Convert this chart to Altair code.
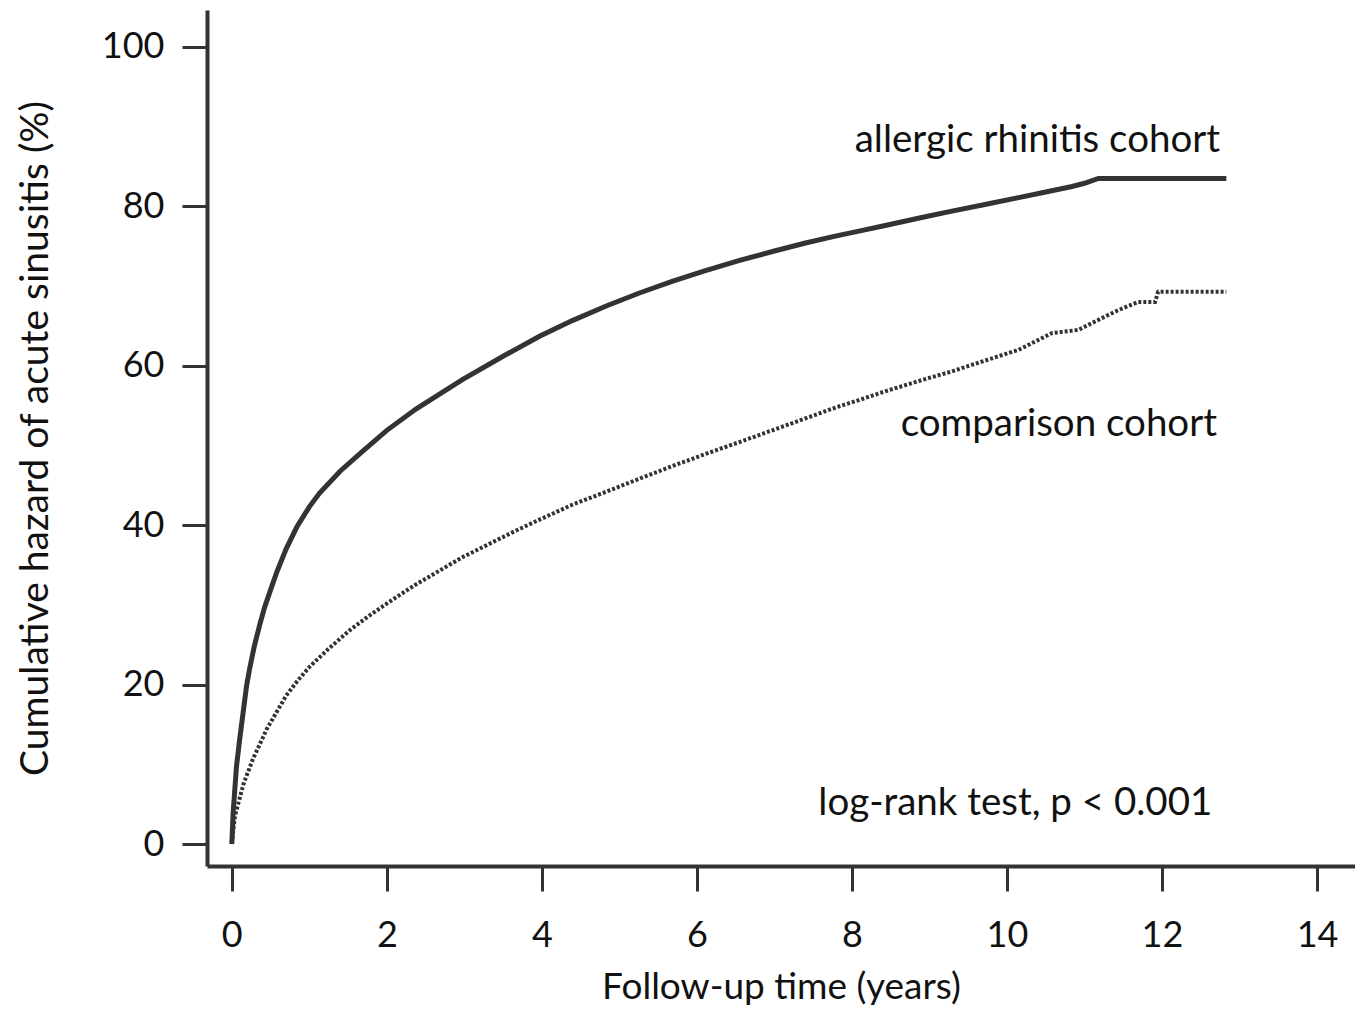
import altair as alt
import pandas as pd

# Allergic rhinitis cohort (solid)
ar_time = [0, 0.017, 0.06, 0.10, 0.15, 0.19, 0.23, 0.29, 0.36, 0.42, 0.49, 0.58, 0.70,
           0.84, 1.0, 1.13, 1.40, 1.69, 2.0, 2.38, 2.98, 3.5, 3.97, 4.4, 4.83, 5.25,
           5.68, 6.1, 6.54, 7.0, 7.40, 7.8, 8.09, 8.43, 8.9, 9.29, 9.7, 10.15, 10.5,
           10.84, 11.0, 11.18, 12.83]
ar_hazard = [0, 3.9, 9.7, 13.0, 16.8, 19.8, 22.0, 24.8, 27.5, 29.6, 31.6, 34.1, 37.0,
             39.8, 42.3, 44.0, 46.8, 49.3, 51.9, 54.6, 58.3, 61.2, 63.7, 65.7, 67.5, 69.1,
             70.6, 71.9, 73.2, 74.4, 75.4, 76.3, 76.9, 77.6, 78.6, 79.4, 80.2, 81.1, 81.8,
             82.5, 82.9, 83.5, 83.5]

# Comparison cohort (dotted)
cc_time = [0, 0.04, 0.15, 0.27, 0.45, 0.70, 0.85, 1.0, 1.26, 1.52, 1.78, 2.08, 2.38, 2.98,
           3.62, 3.97, 4.4, 4.83, 5.25, 5.68, 6.1, 6.54, 7.0, 7.40, 7.8, 8.09, 8.43,
           8.9, 9.29, 9.7, 10.15, 10.58, 10.92, 11.27, 11.44, 11.69, 11.91, 11.95, 12.83]
cc_hazard = [0, 3.5, 7.5, 10.6, 14.4, 18.6, 20.5, 22.2, 24.6, 26.8, 28.7, 30.7, 32.6, 36.0,
             39.1, 40.7, 42.6, 44.2, 45.8, 47.4, 48.9, 50.4, 52.0, 53.4, 54.8, 55.7, 56.8,
             58.2, 59.3, 60.6, 62.0, 64.1, 64.5, 66.2, 67.0, 68.0, 68.0, 69.3, 69.3]

x_ticks = [0, 2, 4, 6, 8, 10, 12, 14]
y_ticks = [0, 20, 40, 60, 80, 100]

ann_text = ["allergic rhinitis cohort", "comparison cohort", "log-rank test, p < 0.001"]
ann_x = [12.75, 12.71, 12.65]
ann_y = [86.8, 51.2, 3.6]

FONT = "Lato"
TXT = "#111111"
ar = pd.DataFrame({"t": ar_time, "h": ar_hazard})
cc = pd.DataFrame({"t": cc_time, "h": cc_hazard})
ann = pd.DataFrame({"label": ann_text, "t": ann_x, "h": ann_y})

xscale = alt.Scale(domain=[-0.32, 14.49], nice=False, zero=False)
yscale = alt.Scale(domain=[-2.76, 104.64], nice=False, zero=False)

xaxis = alt.Axis(values=x_ticks, format="d", title="Follow-up time (years)", grid=False,
                 domainWidth=4, domainColor="#333333", tickColor="#333333",
                 tickWidth=3, tickSize=25, labelFontSize=36, labelFont=FONT,
                 labelColor=TXT, labelPadding=27, titleFontSize=37,
                 titleFont=FONT, titleFontWeight="normal", titleColor=TXT,
                 titlePadding=16, labelFlush=False)
yaxis = alt.Axis(values=y_ticks, format="d",
                 title="Cumulative hazard of acute sinusitis (%)",
                 grid=False, domainWidth=4, domainColor="#333333",
                 tickColor="#333333", tickWidth=3, tickSize=25, labelFontSize=36,
                 labelFont=FONT, labelColor=TXT, labelPadding=18,
                 titleFontSize=39, titleFont=FONT, titleFontWeight="normal",
                 titleColor=TXT, titlePadding=46, labelFlush=False)

solid = alt.Chart(ar).mark_line(color="#333333", strokeWidth=5, clip=True).encode(
    x=alt.X("t:Q", scale=xscale, axis=xaxis),
    y=alt.Y("h:Q", scale=yscale, axis=yaxis),
)
dotted = alt.Chart(cc).mark_line(color="#333333", strokeWidth=4,
                                 strokeDash=[3, 2], clip=True).encode(
    x=alt.X("t:Q", scale=xscale),
    y=alt.Y("h:Q", scale=yscale),
)
text = alt.Chart(ann).mark_text(align="right", baseline="alphabetic", fontSize=38.5,
                                font=FONT, color=TXT).encode(
    x=alt.X("t:Q", scale=xscale),
    y=alt.Y("h:Q", scale=yscale),
    text="label:N",
)

chart = (solid + dotted + text).properties(
    width=1148, height=856,
    background="white",
    autosize=alt.AutoSizeParams(type="none"),
    padding={"left": 199, "top": 2, "right": 0, "bottom": 142},
).configure_view(strokeWidth=0)

chart.save("out.html", embed_options={"renderer": "svg", "actions": False})
